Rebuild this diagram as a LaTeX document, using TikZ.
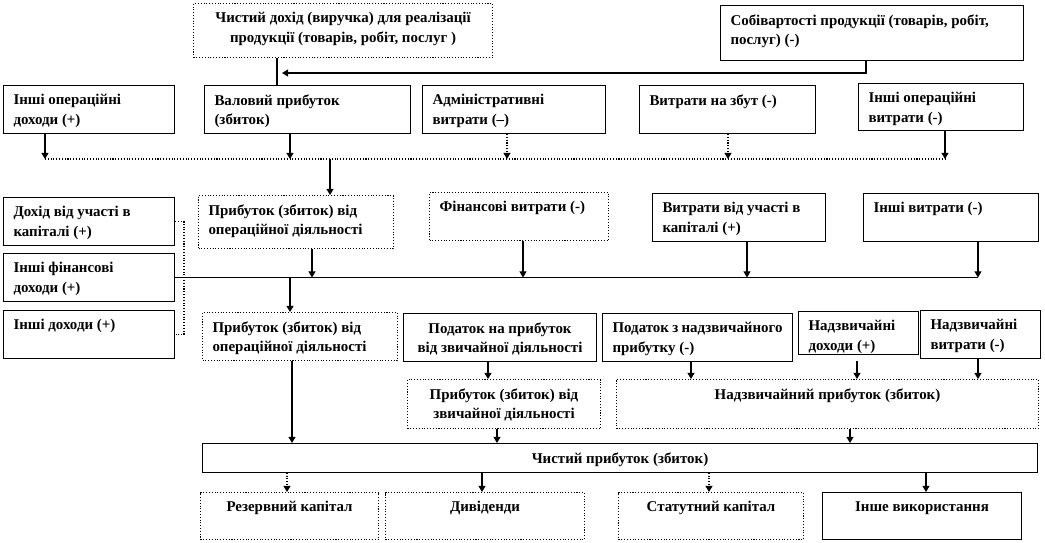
\documentclass[tikz,border=0pt]{standalone}
\usepackage{fontspec}
\setmainfont{Liberation Serif}
\usetikzlibrary{arrows.meta}

% box from (x1,y1) to (x2,y2) in pixel units, text set at its top
\newcommand{\flowbox}[8][]{%
    \pgfmathsetlengthmacro{\bw}{(#5-#3)*0.02cm-0.4cm}%
    \pgfmathsetlengthmacro{\bh}{(#6-#4)*0.02cm-0.36cm}%
    \node[box, #1] (#2) at (#3,#4) {\parbox[t][\bh][t]{\bw}{#7#8}};%
}

\begin{document}
\begin{tikzpicture}[
    x=0.02cm, y=-0.02cm,
    box/.style={draw, line width=0.6pt, anchor=north west,
        inner xsep=0.2cm, inner ysep=0.18cm,
        font=\bfseries\fontsize{8.5}{11}\selectfont},
    dotbox/.style={densely dotted},
    conn/.style={line width=0.6pt},
    dotline/.style={line width=0.6pt, densely dotted},
    arr/.style={line width=0.6pt, -{Triangle[length=3.5pt, width=4pt]}},
]
\useasboundingbox (0,0) rectangle (1045,543);

% --- Revenue and cost of sales ---
\flowbox[dotbox]{top}{193}{3}{492}{57}{\centering}{Чистий дохід (виручка) для реалізації\\ продукції (товарів, робіт,  послуг )}
\flowbox{sob}{720}{5}{1023}{60}{\raggedright}{Собівартості продукції (товарів, робіт,\\ послуг) (-)}

% --- Operating items ---
\flowbox{iod}{3}{85}{174}{133}{\raggedright}{Інші  операційні\\ доходи (+)}
\flowbox{val}{204}{85}{410}{133}{\raggedright}{Валовий прибуток\\ (збиток)}
\flowbox{adm}{422}{85}{605}{133}{\raggedright}{Адміністративні\\ витрати (–)}
\flowbox{vnz}{639}{85}{815}{133}{\raggedright}{Витрати на збут (-)}
\flowbox{iov}{858}{83}{1023}{130}{\raggedright}{Інші  операційні\\ витрати (-)}

% --- Financial items ---
\flowbox{duk}{3}{197}{174}{245}{\raggedright}{Дохід  від участі в\\ капіталі (+)}
\flowbox[dotbox]{opr}{198}{195}{393}{248}{\raggedright}{Прибуток (збиток) від\\ операційної діяльності}
\flowbox[dotbox]{fin}{429}{192}{608}{240}{\raggedright}{Фінансові витрати (-)}
\flowbox{vuk}{652}{193}{825}{241}{\raggedright}{Витрати від участі в\\ капіталі  (+)}
\flowbox{iv}{863}{193}{1038}{241}{\raggedright}{Інші витрати (-)}
\flowbox{ifd}{3}{253}{174}{301}{\raggedright}{Інші фінансові\\ доходи (+)}
\flowbox{id}{3}{310}{174}{358}{\raggedright}{Інші  доходи (+)}

% --- Taxes and extraordinary items ---
\flowbox[dotbox]{opd}{202}{312}{397}{360}{\raggedright}{Прибуток (збиток) від\\ операційної діяльності}
\flowbox{pnp}{403}{313}{596}{361}{\centering}{Податок на прибуток\\ від звичайної діяльності}
\flowbox{pnz}{602}{313}{792}{361}{\raggedright}{Податок\hfill з\hfill надзвичайного\\ прибутку (-)}
\flowbox{ndoh}{798}{311}{918}{354}{\raggedright}{Надзвичайні\\ доходи (+)}
\flowbox{nvyt}{920}{310}{1040}{358}{\raggedright}{Надзвичайні\\ витрати (-)}
\flowbox[dotbox]{zvd}{407}{379}{600}{428}{\centering}{Прибуток (збиток) від\\ звичайної діяльності}
\flowbox[dotbox]{nzp}{616}{379}{1038}{428}{\centering}{Надзвичайний прибуток (збиток)}

% --- Net profit and its use ---
\flowbox{chp}{202}{443}{1037}{471}{\centering}{Чистий прибуток (збиток)}
\flowbox[dotbox]{rez}{200}{492}{378}{539}{\centering}{Резервний капітал}
\flowbox[dotbox]{dyv}{385}{492}{584}{539}{\centering}{Дивіденди}
\flowbox[dotbox]{stat}{618}{492}{803}{539}{\centering}{Статутний капітал}
\flowbox{inv}{822}{492}{1021}{539}{\centering}{Інше використання}

% --- Connectors: gross profit ---
\coordinate (tj) at (277,73);
\draw[conn] (top.south -| tj) -- (val.north -| tj);
\draw[arr, shorten >=0.1cm] (sob.south -| 866,0) |- (tj);

% --- Connectors: operating bus ---
\coordinate (busA) at (0,159);
\draw[dotline] (busA -| 45,0) -- (busA -| 945,0);
\draw[arr] (iod.south -| 45,0) -- (busA -| 45,0);
\draw[arr] (val.south -| 290,0) -- (busA -| 290,0);
\draw[arr, densely dotted] (adm.south -| 507,0) -- (busA -| 507,0);
\draw[arr, densely dotted] (vnz.south -| 728,0) -- (busA -| 728,0);
\draw[arr] (iov.south -| 945,0) -- (busA -| 945,0);
\draw[arr] (busA -| 330,0) -- (opr.north -| 330,0);

% --- Connectors: financial bus ---
\draw[conn] (ifd.east) -- (ifd.east -| 978,0);
\draw[dotline] (duk.east) -- (duk.east -| 184,0) -- (id.east -| 184,0) -- (id.east);
\draw[arr] (opr.south -| 312,0) -- (ifd.east -| 312,0);
\draw[arr] (fin.south -| 523,0) -- (ifd.east -| 523,0);
\draw[arr] (vuk.south -| 747,0) -- (ifd.east -| 747,0);
\draw[arr] (iv.south -| 978,0) -- (ifd.east -| 978,0);
\draw[arr] (ifd.east -| 290,0) -- (opd.north -| 290,0);

% --- Connectors: taxes and extraordinary ---
\draw[arr] (pnp.south -| 488,0) -- (zvd.north -| 488,0);
\draw[arr] (pnz.south -| 691,0) -- (nzp.north -| 691,0);
\draw[arr, shorten <=0.12cm] (ndoh.south -| 857,0) -- (nzp.north -| 857,0);
\draw[arr] (nvyt.south -| 978,0) -- (nzp.north -| 978,0);

% --- Connectors: net profit ---
\draw[arr] (opd.south -| 292,0) -- (chp.north -| 292,0);
\draw[arr] (zvd.south -| 497,0) -- (chp.north -| 497,0);
\draw[arr] (nzp.south -| 850,0) -- (chp.north -| 850,0);
\draw[arr, densely dotted] (chp.south -| 287,0) -- (rez.north -| 287,0);
\draw[arr] (chp.south -| 482,0) -- (dyv.north -| 482,0);
\draw[arr, densely dotted] (chp.south -| 709,0) -- (stat.north -| 709,0);
\draw[arr] (chp.south -| 926,0) -- (inv.north -| 926,0);

\end{tikzpicture}
\end{document}
